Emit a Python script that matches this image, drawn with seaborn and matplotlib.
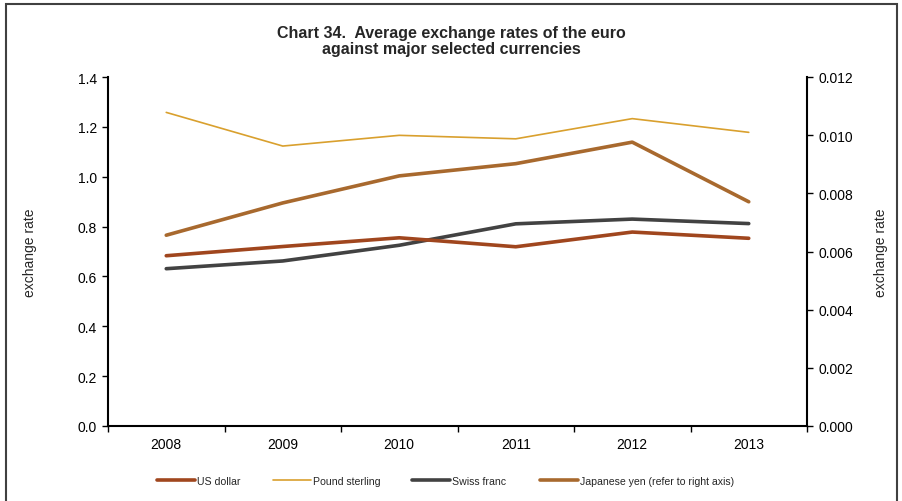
import matplotlib
matplotlib.use("Agg")
import matplotlib.pyplot as plt
import seaborn as sns
import pandas as pd
import numpy as np
from matplotlib.patches import Rectangle
from matplotlib.lines import Line2D

years = ["2008", "2009", "2010", "2011", "2012", "2013"]
us_dollar = [0.683, 0.720, 0.755, 0.719, 0.778, 0.753]
pound_sterling = [1.258, 1.123, 1.166, 1.152, 1.233, 1.178]
swiss_franc = [0.631, 0.662, 0.725, 0.811, 0.830, 0.812]
japanese_yen = [0.00656, 0.00767, 0.00860, 0.00902, 0.00976, 0.00771]

sns.set_theme(style="white")
plt.rcParams['font.family'] = ['Liberation Sans', 'DejaVu Sans']

fig = plt.figure(figsize=(9.02, 5.02), dpi=100)
ax = fig.add_axes([108/902, 1-427/502, 699/902, 349/502])
ax2 = ax.twinx()

x = np.arange(len(years))
df = pd.DataFrame({"x": x, "us": us_dollar, "gbp": pound_sterling,
                   "chf": swiss_franc, "jpy": japanese_yen})

c_us = "#A0461E"
c_gbp = "#D9A02E"
c_chf = "#424242"
c_jpy = "#A8692E"

sns.lineplot(data=df, x="x", y="gbp", ax=ax, color=c_gbp, lw=1.2)
sns.lineplot(data=df, x="x", y="chf", ax=ax, color=c_chf, lw=2.6)
sns.lineplot(data=df, x="x", y="us", ax=ax, color=c_us, lw=2.6)
sns.lineplot(data=df, x="x", y="jpy", ax=ax2, color=c_jpy, lw=2.6)
ax.set_zorder(ax2.get_zorder() + 1)
ax.patch.set_visible(False)

ax.set_xlim(-0.5, 5.5)
ax.set_ylim(0, 1.4)
ax2.set_ylim(0, 0.012)
ax.set_yticks(np.arange(0, 1.41, 0.2))
ax.set_yticklabels([f"{v:.1f}" for v in np.arange(0, 1.41, 0.2)])
ax2.set_yticks(np.arange(0, 0.0121, 0.002))
ax2.set_yticklabels([f"{v:.3f}" for v in np.arange(0, 0.0121, 0.002)])

ax.set_xticks(x)
ax.set_xticklabels(years)
ax.set_xticks(np.arange(-0.5, 5.6, 1), minor=True)
ax.tick_params(axis="x", which="major", length=0, pad=8, labelsize=10, colors="black")
ax.tick_params(axis="x", which="minor", length=4, width=1, direction="out", bottom=True, color="black")
ax.tick_params(axis="y", length=4, width=1, direction="out", left=True, labelsize=10, colors="black", pad=4)
ax2.tick_params(axis="y", length=4, width=1, direction="out", right=True, labelsize=10, colors="black", pad=4)

for a in (ax, ax2):
    for s in a.spines.values():
        s.set_visible(False)
ax.spines["left"].set_visible(True)
ax.spines["bottom"].set_visible(True)
ax2.spines["right"].set_visible(True)
for s in (ax.spines["left"], ax.spines["bottom"], ax2.spines["right"]):
    s.set_color("black")
    s.set_linewidth(1.5)

ax.set_xlabel("")
ax.set_ylabel("exchange rate", fontsize=10, labelpad=29)
ax2.set_ylabel("exchange rate", fontsize=10, labelpad=15)
ax.grid(False)
ax2.grid(False)

fig.text(0.5, 1-41.5/502, "Chart 34.  Average exchange rates of the euro\nagainst major selected currencies",
         ha="center", va="center", fontsize=11.5, fontweight="bold", linespacing=1.15)

handles = [Line2D([], [], color=c_us, lw=2.6),
           Line2D([], [], color=c_gbp, lw=1.2),
           Line2D([], [], color=c_chf, lw=2.6),
           Line2D([], [], color=c_jpy, lw=2.6)]
labels = ["US dollar", "Pound sterling", "Swiss franc", "Japanese yen (refer to right axis)"]
xpos = [157, 273, 412, 540]
for h, l, xp in zip(handles, labels, xpos):
    fig.legend([h], [l], loc="center left", bbox_to_anchor=(xp/902, 1-482/502),
               frameon=False, fontsize=7.6, handlelength=3.6, handletextpad=0.2,
               borderpad=0, borderaxespad=0)

fig.add_artist(Rectangle((6/902, -0.1), 891/902, 1.1-5/502, transform=fig.transFigure,
                         fill=False, edgecolor="#404040", lw=1.5))

fig.savefig("out.png", dpi=100)
